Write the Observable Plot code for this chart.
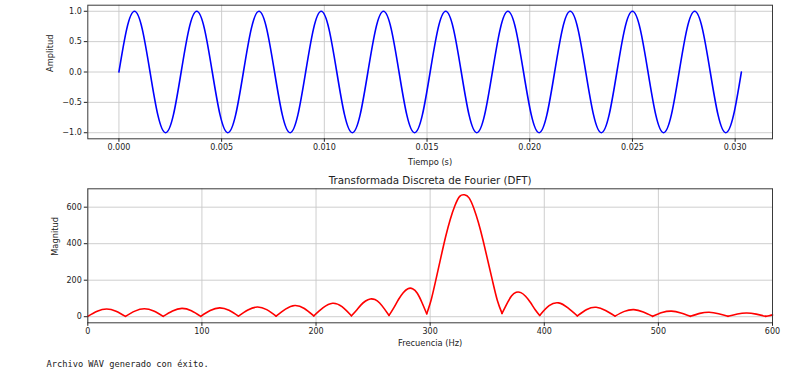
<!DOCTYPE html>
<html><head><meta charset="utf-8">
<script src="https://cdn.jsdelivr.net/npm/d3@7"></script>
<script src="https://cdn.jsdelivr.net/npm/@observablehq/plot@0.6"></script>
<style>
html,body{margin:0;padding:0;background:#fff;}
#wrap{position:relative;width:785px;height:375px;overflow:hidden;}
#top{position:absolute;left:0;top:0;}
#bot{position:absolute;left:0;top:170px;}
#msg{position:absolute;left:46.5px;top:360px;font-family:"DejaVu Sans Mono",monospace;font-size:8.7px;line-height:1;color:#222;white-space:pre;}
</style></head><body>
<div id="wrap"><div id="top"></div><div id="bot"></div><div id="msg">Archivo WAV generado con éxito.</div></div>
<script>
// Señal en el tiempo (s) y su amplitud
const tiempo = [
  0, 0.000379, 0.000758, 0.001136, 0.001515, 0.001894, 0.002273, 0.002652,
  0.003030, 0.003409, 0.003788, 0.004167, 0.004545, 0.004924, 0.005303, 0.005682,
  0.006061, 0.006439, 0.006818, 0.007197, 0.007576, 0.007955, 0.008333, 0.008712,
  0.009091, 0.009470, 0.009848, 0.010227, 0.010606, 0.010985, 0.011364, 0.011742,
  0.012121, 0.012500, 0.012879, 0.013258, 0.013636, 0.014015, 0.014394, 0.014773,
  0.015152, 0.015530, 0.015909, 0.016288, 0.016667, 0.017045, 0.017424, 0.017803,
  0.018182, 0.018561, 0.018939, 0.019318, 0.019697, 0.020076, 0.020455, 0.020833,
  0.021212, 0.021591, 0.021970, 0.022348, 0.022727, 0.023106, 0.023485, 0.023864,
  0.024242, 0.024621, 0.025000, 0.025379, 0.025758, 0.026136, 0.026515, 0.026894,
  0.027273, 0.027652, 0.028030, 0.028409, 0.028788, 0.029167, 0.029545, 0.029924,
  0.030303
];
const amplitud = [
  0, 0.707, 1, 0.707, 0, -0.707, -1, -0.707,
  0, 0.707, 1, 0.707, 0, -0.707, -1, -0.707,
  0, 0.707, 1, 0.707, 0, -0.707, -1, -0.707,
  0, 0.707, 1, 0.707, 0, -0.707, -1, -0.707,
  0, 0.707, 1, 0.707, 0, -0.707, -1, -0.707,
  0, 0.707, 1, 0.707, 0, -0.707, -1, -0.707,
  0, 0.707, 1, 0.707, 0, -0.707, -1, -0.707,
  0, 0.707, 1, 0.707, 0, -0.707, -1, -0.707,
  0, 0.707, 1, 0.707, 0, -0.707, -1, -0.707,
  0, 0.707, 1, 0.707, 0, -0.707, -1, -0.707,
  0
];

// Espectro: frecuencia (Hz) y magnitud
const frecuencia = [
  0, 8.25, 16.5, 24.75, 33,
  41.25, 49.5, 57.75, 66,
  74.25, 82.5, 90.75, 99,
  107.25, 115.5, 123.75, 132,
  140.25, 148.5, 156.75, 165,
  173.25, 181.5, 189.75, 198,
  206.25, 214.5, 222.75, 231,
  235.1, 239.25, 243.4, 247.5, 251.6, 255.75, 259.9, 264,
  268.1, 272.25, 276.4, 280.5, 284.6, 288.75, 292.9, 297,
  301.1, 305.25, 309.4, 313.5, 317.6, 321.75, 325.9, 330,
  334.1, 338.25, 342.4, 346.5, 350.6, 354.75, 358.9, 363,
  367.1, 371.25, 375.4, 379.5, 383.6, 387.75, 391.9, 396,
  404.25, 412.5, 420.75, 429,
  437.25, 445.5, 453.75, 462,
  470.25, 478.5, 486.75, 495,
  503.25, 511.5, 519.75, 528,
  536.25, 544.5, 552.75, 561,
  569.25, 577.5, 585.75, 594,
  597, 600
];
const magnitud = [
  2, 30.1, 42.6, 30.2, 2,
  30.6, 43.5, 31.0, 2,
  31.7, 45.4, 32.5, 2,
  33.6, 48.5, 35.0, 3,
  36.7, 53.3, 38.8, 3,
  41.5, 61.0, 44.9, 4,
  49.4, 73.7, 55.2, 5,
  33.1, 63.4, 86.2, 97.2, 93.9, 75.3, 42.9, 7,
  47.9, 94.2, 131.6, 153.3, 153.5, 128.3, 76.7, 16,
  97.2, 208.3, 324.9, 436.3, 533.0, 609.2, 659.3, 668,
  651.1, 594.1, 513.3, 415.0, 305.3, 193.3, 89.0, 18,
  68.5, 113.2, 133.7, 131.9, 111.8, 79.0, 39.7, 7,
  60.1, 75.6, 48.1, 4,
  39.8, 51.7, 33.8, 3,
  29.2, 38.6, 25.6, 2,
  22.7, 30.3, 20.3, 2,
  18.3, 24.7, 16.7, 2,
  15.2, 20.6, 14.0, 2,
  5.3, 9.9
];

const ticksTiempo = [0, 0.005, 0.010, 0.015, 0.020, 0.025, 0.030];
const ticksAmplitud = [-1.0, -0.5, 0.0, 0.5, 1.0];
const ticksFrecuencia = [0, 100, 200, 300, 400, 500, 600];
const ticksMagnitud = [0, 200, 400, 600];

const senal = tiempo.map((t, i) => ({t, a: amplitud[i]}));

// split the spectrum into lobes at the local minima so each dip stays sharp
const espectro = [];
let lobe = 0;
for (let i = 0; i < frecuencia.length; i++) {
  const m = magnitud[i];
  espectro.push({f: frecuencia[i], m, lobe});
  const dip = i > 0 && i < frecuencia.length - 1 && m < magnitud[i - 1] && m < magnitud[i + 1];
  if (dip) { lobe++; espectro.push({f: frecuencia[i], m, lobe}); }
}

const gridStyle = {stroke: "#c8c8c8", strokeOpacity: 1, strokeWidth: 0.9};
const baseStyle = {fontFamily: "'DejaVu Sans', sans-serif", fontSize: "8px", color: "#222", background: "transparent", overflow: "visible"};

const topPlot = Plot.plot({
  width: 785, height: 170,
  marginLeft: 87.3, marginRight: 13, marginTop: 4.7, marginBottom: 31.7,
  style: baseStyle,
  x: {domain: [-0.0015152, 0.0318182]},
  y: {domain: [-1.1, 1.1]},
  marks: [
    Plot.gridX(ticksTiempo, gridStyle),
    Plot.gridY(ticksAmplitud, gridStyle),
    Plot.line(senal, {x: "t", y: "a", stroke: "#0000ff", strokeWidth: 1.6, curve: "natural"}),
    Plot.frame({stroke: "#3a3a3a", strokeWidth: 1}),
    Plot.axisX(ticksTiempo, {tickFormat: d3.format(".3f"), tickSize: 3.5, tickPadding: 2.5, label: null}),
    Plot.axisY(ticksAmplitud, {tickFormat: d3.format(".1f"), tickSize: 3.5, tickPadding: 2.5, label: null}),
    Plot.text(["Tiempo (s)"], {text: d => d, frameAnchor: "bottom", dy: 23.6, lineAnchor: "middle", fontSize: 8.3}),
    Plot.text(["Amplitud"], {text: d => d, frameAnchor: "left", dx: -37.3, rotate: -90, lineAnchor: "middle", fontSize: 8.3})
  ]
});
document.getElementById("top").append(topPlot);

const botPlot = Plot.plot({
  width: 785, height: 185,
  marginLeft: 87.3, marginRight: 13, marginTop: 18.3, marginBottom: 32.7,
  style: baseStyle,
  x: {domain: [0, 600]},
  y: {domain: [-33.4, 700.7]},
  marks: [
    Plot.gridX(ticksFrecuencia, gridStyle),
    Plot.gridY(ticksMagnitud, gridStyle),
    Plot.line(espectro, {x: "f", y: "m", z: "lobe", stroke: "#ff0000", strokeWidth: 1.6, curve: "natural"}),
    Plot.frame({stroke: "#3a3a3a", strokeWidth: 1}),
    Plot.axisX(ticksFrecuencia, {tickFormat: d3.format("d"), tickSize: 3.5, tickPadding: 2.5, label: null}),
    Plot.axisY(ticksMagnitud, {tickFormat: d3.format("d"), tickSize: 3.5, tickPadding: 2.5, label: null}),
    Plot.text(["Transformada Discreta de Fourier (DFT)"], {text: d => d, frameAnchor: "top", dy: -8.3, lineAnchor: "middle", fontSize: 10.3}),
    Plot.text(["Frecuencia (Hz)"], {text: d => d, frameAnchor: "bottom", dy: 21, lineAnchor: "middle", fontSize: 8.3}),
    Plot.text(["Magnitud"], {text: d => d, frameAnchor: "left", dx: -32.3, rotate: -90, lineAnchor: "middle", fontSize: 8.3})
  ]
});
document.getElementById("bot").append(botPlot);
</script>
</body></html>
